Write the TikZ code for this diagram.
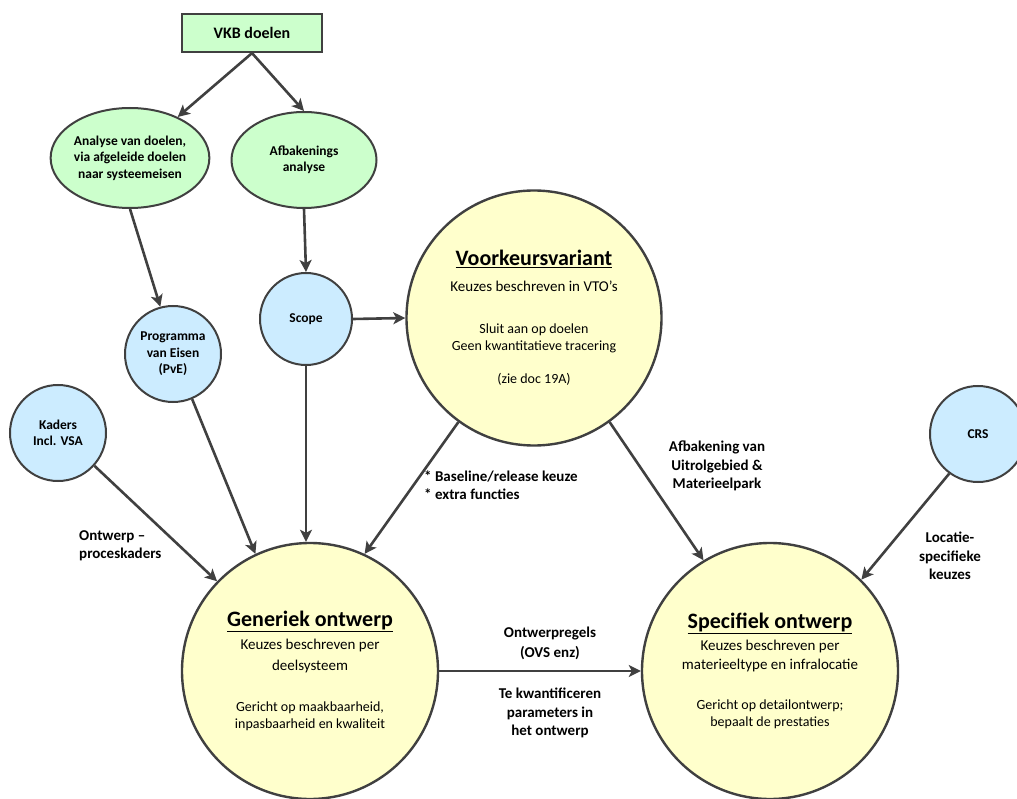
\documentclass[tikz,border=0pt]{standalone}
\usepackage{fontspec}
\setmainfont{Carlito}
\usetikzlibrary{shapes.geometric,arrows.meta}

\definecolor{edgegray}{HTML}{404040}
\definecolor{goalgreen}{HTML}{CCFFCC}
\definecolor{infoblue}{HTML}{CCECFF}
\definecolor{stageyellow}{HTML}{FFFFCC}

\newcommand\fsz[2]{\fontsize{#1}{#2}\selectfont}

\begin{document}
\begin{tikzpicture}[x=1pt,y=-1pt,
  goalbox/.style={rectangle, draw=edgegray, line width=2.2pt, fill=goalgreen,
    minimum width=140pt, minimum height=38pt, font=\bfseries\fsz{16}{19}},
  goalell/.style={ellipse, draw=edgegray, line width=2pt, fill=goalgreen,
    inner sep=0pt, align=center, font=\bfseries\fsz{13.5}{16.5}},
  infocirc/.style={circle, draw=edgegray, line width=2pt, fill=infoblue,
    inner sep=0pt, align=center, font=\bfseries\fsz{13.5}{16.5}},
  stagecirc/.style={circle, draw=edgegray, line width=2.4pt, fill=stageyellow,
    inner sep=0pt, minimum size=256pt, align=center, font=\fsz{14}{17}},
  conn/.style={draw=edgegray, line width=2.6pt,
    -{Stealth[length=12pt,width=12pt,inset=3pt]}},
  lbl/.style={font=\bfseries\fsz{15}{18.5}, inner sep=0pt, align=center},
]
\useasboundingbox (0,0) rectangle (1017,799);

% goals and their analyses
\node[goalbox] (vkb) at (252,33) {VKB doelen};
\node[goalell, minimum width=146pt, minimum height=100pt] (analyse) at (130,158)
  {Analyse van doelen,\\via afgeleide doelen\\naar systeemeisen};
\node[goalell, minimum width=145pt, minimum height=96pt] (afbak) at (304,160)
  {Afbakenings\\analyse};

% inputs
\node[infocirc, minimum size=92pt] (scope) at (306,319) {Scope};
\node[infocirc, minimum size=96pt] (pve) at (173,354) {Programma\\van Eisen\\(PvE)};
\node[infocirc, minimum size=96pt] (kaders) at (58,433) {Kaders\\Incl. VSA};
\node[infocirc, minimum size=96pt] (crs) at (978,434) {CRS};

% design stages
\node[stagecirc, minimum size=255pt] (vkv) at (534,318)
  {{\fsz{22}{26}\bfseries\underline{Voorkeursvariant}}\\[9pt]
   {\fsz{15}{18}Keuzes beschreven in VTO’s}\\[25pt]
   Sluit aan op doelen\\
   Geen kwantitatieve tracering\\[16pt]
   (zie doc 19A)};
\node[stagecirc] (gen) at (310,671)
  {{\fsz{22}{26}\bfseries\underline{Generiek ontwerp}}\\[6pt]
   {\fsz{15}{18}Keuzes beschreven per}\\[4pt]
   {\fsz{15}{18}deelsysteem}\\[24pt]
   Gericht op maakbaarheid,\\
   inpasbaarheid en kwaliteit};
\node[stagecirc] (spec) at (770,671)
  {{\fsz{22}{26}\bfseries\underline{Specifiek ontwerp}}\\[5pt]
   {\fsz{15}{18}Keuzes beschreven per}\\[2pt]
   {\fsz{15}{18}materieeltype en infralocatie}\\[23pt]
   Gericht op detailontwerp;\\
   bepaalt de prestaties};

% connectors
\draw[conn] (vkb.south) -- (analyse);
\draw[conn] (vkb.south) -- (afbak.north);
\draw[conn] (analyse.south) -- (pve.105);
\draw[conn] (afbak.south) -- (scope.north);
\draw[conn] (scope.east) -- (vkv.west);
\draw[conn] (pve.-67) -- (gen.115);
\draw[conn] (scope.south) -- (scope.south |- gen.north);
\draw[conn] (kaders.-42) -- (gen.136);
\draw[conn] (vkv.-126) -- (gen.65);
\draw[conn] (vkv.-54) -- (spec.121);
\draw[conn] (crs.-126) -- (spec.45);
\draw[conn] (gen.east) -- (spec.west);

% connector labels
\node[lbl, anchor=west, align=left] (lproc) at (79,546) {Ontwerp –\\proceskaders};
\node[lbl, anchor=west, align=left] (lbase) at (424,485) {* Baseline/release keuze\\* extra functies};
\node[lbl] (luitrol) at (717,466) {Afbakening van\\Uitrolgebied \&\\Materieelpark};
\node[lbl] (lloc) at (950,556) {Locatie-\\specifieke\\keuzes};
\node[lbl, font=\bfseries\fsz{15}{20}] (lregels) at (550,643) {Ontwerpregels\\(OVS enz)};
\node[lbl] (lparam) at (550,713) {Te kwantificeren\\parameters in\\het ontwerp};
\end{tikzpicture}
\end{document}
